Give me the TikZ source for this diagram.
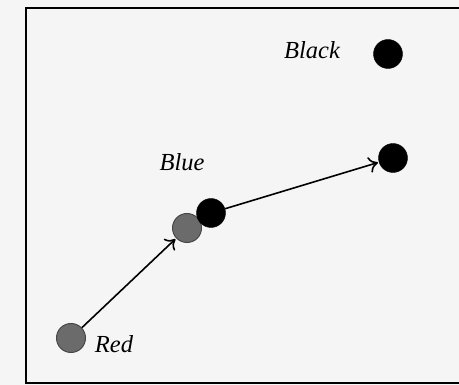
\documentclass[tikz,border=0pt]{standalone}
\usepackage{fontspec}
\setmainfont{Liberation Serif}
\usetikzlibrary{arrows.meta}
\begin{document}
\begin{tikzpicture}[x=1pt,y=-1pt,
  blackdot/.style={circle,fill=black,draw=black,minimum size=29pt,inner sep=0pt},
  graydot/.style={circle,fill=black!58,draw=black!72,line width=1pt,minimum size=29pt,inner sep=0pt},
  lab/.style={font=\fontsize{24.5}{28}\selectfont\itshape,inner sep=0pt},
  conn/.style={draw=black,line width=1.6pt,-{To[length=9pt,width=16pt,line width=1.6pt]},shorten >=1pt}]
\useasboundingbox (0,0) rectangle (459,385);
\fill[white!96!black] (0,0) rectangle (459,385);
\draw[line width=2.2pt] (26,8) rectangle (460,383);
\node[blackdot] (blacktop) at (388,54) {};
\node[blackdot] (blackright) at (393,158) {};
\node[graydot] (graymid) at (187,228) {};
\node[blackdot] (bluedot) at (211,213) {};
\node[graydot] (red) at (71,338) {};
\node[lab] (lblack) at (312,50) {Black};
\node[lab] (lblue) at (182,162) {Blue};
\node[lab] (lred) at (114,344) {Red};
\draw[conn] (red) -- (graymid);
\draw[conn] (bluedot) -- (blackright);
\end{tikzpicture}
\end{document}
